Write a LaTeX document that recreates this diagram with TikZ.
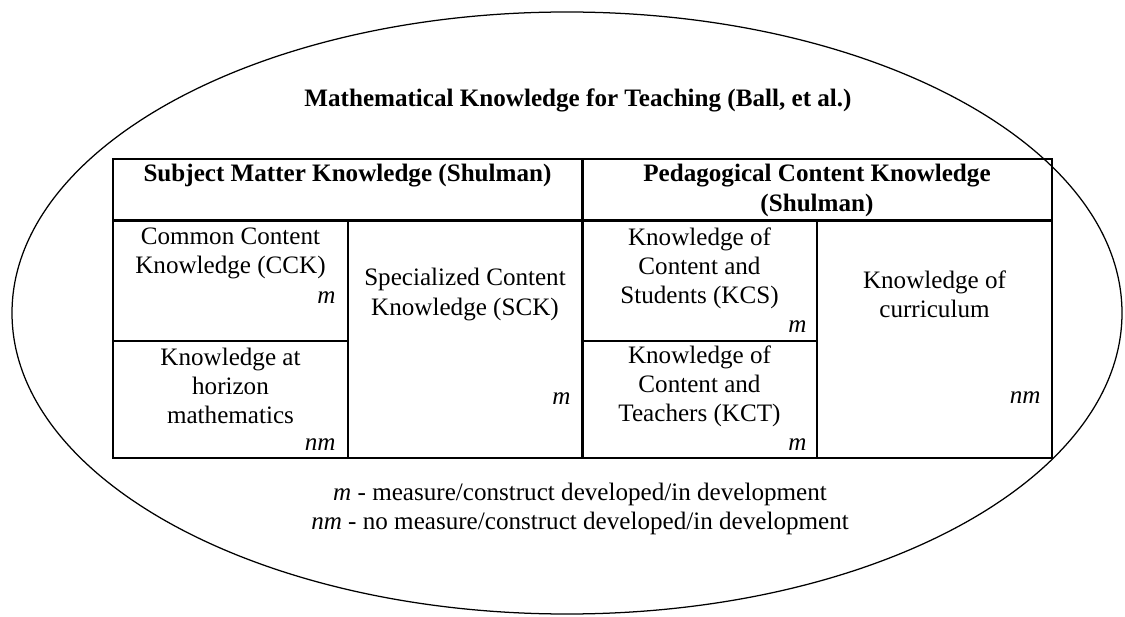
\documentclass[tikz,border=0pt]{standalone}
\usepackage{fontspec}
\setmainfont{Liberation Serif}
\begin{document}
\begin{tikzpicture}[x=0.478pt,y=-0.478pt,
        cell/.style={align=center,inner sep=0pt,font=\fontsize{12}{13.9}\selectfont},
        head/.style={cell,font=\fontsize{12}{13.9}\selectfont\bfseries},
        tag/.style={anchor=east,inner sep=0pt,font=\fontsize{12}{13.9}\selectfont\itshape},
        thin/.style={line width=0.6pt},
        bold/.style={line width=1.7pt}]
        \useasboundingbox (0,0) rectangle (1125,617);
        % 外面的大椭圆
        \draw[thin] (567,313) ellipse (555 and 301);
        \node[head] (mkt) at (578,100) {Mathematical Knowledge for Teaching (Ball, et al.)};
        % 表格:外框、粗分隔线、细分隔线
        \draw[thin] (113,159) rectangle (1052,458);
        \draw[bold] (113,220.5) -- (1052,220.5);
        \draw[bold] (582.5,159) -- (582.5,458);
        \draw[thin] (348,220) -- (348,458);
        \draw[thin] (817,220) -- (817,458);
        \draw[thin] (113,341) -- (348,341);
        \draw[thin] (582,341) -- (817,341);
        % 表头
        \node[head] (smk) at (347.5,176) {Subject Matter Knowledge (Shulman)};
        \node[head] (pck) at (817,190.5) {Pedagogical Content Knowledge\\(Shulman)};
        % 左半部分
        \node[cell] (cck) at (230.5,253.5) {Common Content\\Knowledge (CCK)};
        \node[tag] (cckm) at (336,298) {m};
        \node[cell] (kah) at (230.5,386) {Knowledge at\\horizon\\mathematics};
        \node[tag] (kahm) at (336,445) {nm};
        \node[cell] (sck) at (465,294.5) {Specialized Content\\Knowledge (SCK)};
        \node[tag] (sckm) at (571,399) {m};
        % 右半部分
        \node[cell] (kcs) at (699.5,268) {Knowledge of\\Content and\\Students (KCS)};
        \node[tag] (kcsm) at (807,327) {m};
        \node[cell] (kct) at (699.5,386) {Knowledge of\\Content and\\Teachers (KCT)};
        \node[tag] (kctm) at (807,445) {m};
        \node[cell] (kc) at (934.5,294.5) {Knowledge of\\curriculum};
        \node[tag] (kcm) at (1041,398) {nm};
        % 图例
        \node[cell] (legend) at (580,509) {\textit{m} - measure/construct developed/in development\\\textit{nm} - no measure/construct developed/in development};
    \end{tikzpicture}
\end{document}
